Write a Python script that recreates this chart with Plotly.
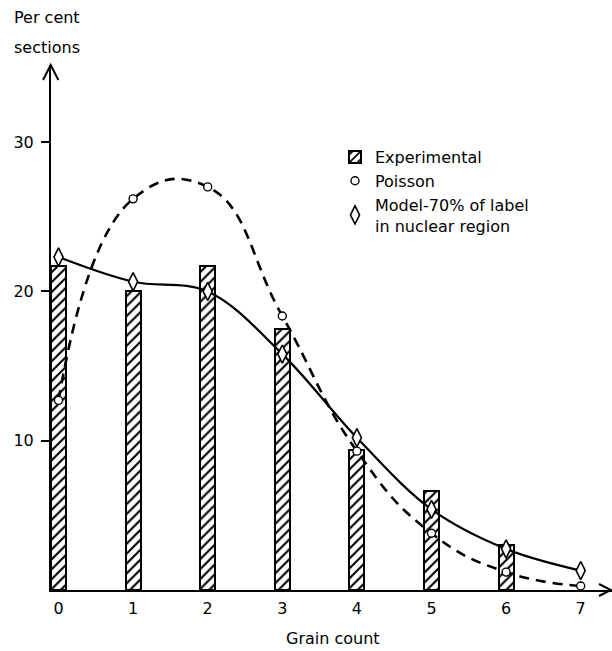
import plotly.graph_objects as go

# Grain counts per section and the three distributions (per cent of sections)
grain_count = [0, 1, 2, 3, 4, 5, 6, 7]
experimental_x = [0, 1, 2, 3, 4, 5, 6]
experimental = [21.7, 20.0, 21.7, 17.5, 9.4, 6.6, 3.0]
poisson = [12.7, 26.2, 27.0, 18.35, 9.3, 3.8, 1.2, 0.27]
model = [22.3, 20.65, 20.0, 15.8, 10.2, 5.4, 2.75, 1.3]

x_tick_labels = ["0", "1", "2", "3", "4", "5", "6", "7"]
y_tick_values = [10, 20, 30]
y_tick_labels = ["10", "20", "30"]

W, H = 612, 651
ML, MR, MT, MB = 51, 0, 65, 61
PW, PH = W - ML - MR, H - MT - MB

FONT = dict(family="DejaVu Sans", size=16, color="black")


def px(xp, yp):
    """Pixel position -> paper coordinates."""
    return (xp - ML) / PW, (H - MB - yp) / PH


fig = go.Figure()

fig.add_trace(go.Bar(
    x=experimental_x, y=experimental, width=0.2,
    name="Experimental",
    marker=dict(color="white",
                line=dict(color="black", width=2),
                pattern=dict(shape="/", fgcolor="black", bgcolor="white",
                             fgopacity=1, size=7, solidity=0.3)),
))

# Smooth curves through the computed points
fig.add_trace(go.Scatter(
    x=grain_count, y=poisson, mode="lines", showlegend=False,
    line=dict(color="black", width=2.6, dash="10px,7px", shape="spline", smoothing=1.3),
))
fig.add_trace(go.Scatter(
    x=grain_count, y=model, mode="lines", showlegend=False,
    line=dict(color="black", width=2.2, shape="spline", smoothing=1.0),
))

fig.add_trace(go.Scatter(
    x=grain_count, y=poisson, mode="markers", name="Poisson",
    marker=dict(symbol="circle", size=8, color="white",
                line=dict(color="black", width=1.4)),
    cliponaxis=False,
))
fig.add_trace(go.Scatter(
    x=grain_count, y=model, mode="markers",
    name="Model-70% of label<br>in nuclear region",
    marker=dict(symbol="diamond-tall", size=13, color="white",
                line=dict(color="black", width=1.6)),
    cliponaxis=False,
))

x_left = -(58.5 - ML) / 74.6
x_right = (W - 58.5) / 74.6
y_top = PH / 14.93

# Arrowheads on both axes
shapes = []
for pts in ([(43, 80), (50.7, 65), (58.4, 80)], [(599, 584), (611, 590), (599, 596)]):
    path = ""
    for i, (a, b) in enumerate(pts):
        u, v = px(a, b)
        path += ("M" if i == 0 else "L") + f"{u:.5f},{v:.5f} "
    shapes.append(dict(type="path", xref="paper", yref="paper", path=path,
                       line=dict(color="black", width=2)))

lx1, ly1 = px(12, 18)
lx2, ly2 = px(12, 47)
gx, gy = px(333, 638)
annotations = [
    dict(text="Per cent", x=lx1, y=ly1, xref="paper", yref="paper",
         xanchor="left", yanchor="middle", showarrow=False, font=FONT),
    dict(text="sections", x=lx2, y=ly2, xref="paper", yref="paper",
         xanchor="left", yanchor="middle", showarrow=False, font=FONT),
    dict(text="Grain count", x=gx, y=gy, xref="paper", yref="paper",
         xanchor="center", yanchor="middle", showarrow=False, font=FONT),
]

legx, legy = px(335, 140)

fig.update_layout(
    width=W, height=H,
    margin=dict(l=ML, r=MR, t=MT, b=MB, pad=0),
    paper_bgcolor="white", plot_bgcolor="white",
    font=FONT,
    showlegend=True,
    legend=dict(x=legx, y=legy, xanchor="left", yanchor="top",
                bgcolor="rgba(0,0,0,0)", font=FONT,
                tracegroupgap=3, itemwidth=30),
    xaxis=dict(range=[x_left, x_right], tickvals=grain_count, ticktext=x_tick_labels,
               showgrid=False, zeroline=False, showline=True, linecolor="black",
               linewidth=2, ticks="", ticklabelstandoff=3),
    yaxis=dict(range=[0, y_top], tickvals=y_tick_values, ticktext=y_tick_labels,
               showgrid=False, zeroline=False, showline=True, linecolor="black",
               linewidth=2, ticks="outside", ticklen=8, tickwidth=1.5,
               tickcolor="black", ticklabelstandoff=4),
    shapes=shapes,
    annotations=annotations,
    bargap=0,
)

fig.write_html("out.html")
